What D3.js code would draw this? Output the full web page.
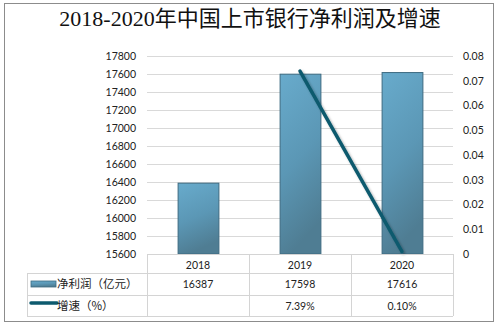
<!DOCTYPE html>
<html><head><meta charset="utf-8">
<script src="https://cdn.jsdelivr.net/npm/d3@7"></script>
<style>
html,body{margin:0;padding:0;background:#fff;}
svg{display:block;}
</style></head>
<body>
<svg id="chart" width="498" height="326"></svg>
<script>
// 2018-2020年中国上市银行净利润及增速
const years = ["2018", "2019", "2020"];
const profit = [16387, 17598, 17616];          // 净利润（亿元）
const growth = [null, 0.0739, 0.0010];         // 增速
const growthLabels = ["", "7.39%", "0.10%"];
const leftTicks = [15600, 15800, 16000, 16200, 16400, 16600, 16800, 17000, 17200, 17400, 17600, 17800];
const rightTicks = [0, 0.01, 0.02, 0.03, 0.04, 0.05, 0.06, 0.07, 0.08];
const seriesNames = ["净利润（亿元）", "增速（%）"];

const svg = d3.select("#chart");
const numFont = "Lato, 'Noto Sans CJK SC', sans-serif";
const cjkFont = "'Noto Sans CJK SC', sans-serif";

// outer frame
svg.append("rect").attr("x", 4.5).attr("y", 3.5).attr("width", 489).attr("height", 318)
  .attr("fill", "#fff").attr("stroke", "#8c8c8c").attr("stroke-width", 1);

// title
svg.append("text").attr("x", 250).attr("y", 25.5).attr("text-anchor", "middle")
  .attr("font-family", "'Liberation Serif', 'Noto Sans CJK SC', serif")
  .attr("font-size", 22).attr("fill", "#111")
  .text("2018-2020年中国上市银行净利润及增速");

const plotL = 147, plotR = 453, plotT = 56, plotB = 254;

const x = d3.scaleBand().domain(years).range([plotL, plotR]).paddingInner(0).paddingOuter(0);
const yL = d3.scaleLinear().domain([15600, 17800]).range([plotB, plotT]);
const yR = d3.scaleLinear().domain([0, 0.08]).range([plotB, plotT]);

// gridlines
svg.append("g").selectAll("line").data(leftTicks.slice(1)).join("line")
  .attr("x1", plotL).attr("x2", plotR)
  .attr("y1", d => Math.round(yL(d)) + 0.5).attr("y2", d => Math.round(yL(d)) + 0.5)
  .attr("stroke", "#d9d9d9").attr("stroke-width", 1);

// left axis
const gL = svg.append("g").attr("transform", `translate(${plotL - 11},0)`)
  .call(d3.axisLeft(yL).tickValues(leftTicks).tickSize(0).tickPadding(0).tickFormat(d3.format("d")));
gL.select(".domain").remove();
gL.selectAll("text").attr("font-family", numFont).attr("font-size", 10.5).attr("fill", "#222");

// right axis
const gR = svg.append("g").attr("transform", `translate(${plotR + 10},0)`)
  .call(d3.axisRight(yR).tickValues(rightTicks).tickSize(0).tickPadding(0)
    .tickFormat(d => d === 0 ? "0" : d3.format(".2f")(d)));
gR.select(".domain").remove();
gR.selectAll("text").attr("font-family", numFont).attr("font-size", 10.5).attr("fill", "#222");

// bar gradient
const defs = svg.append("defs");
const grad = defs.append("linearGradient").attr("id", "barGrad")
  .attr("x1", "0").attr("y1", "0").attr("x2", "0.25").attr("y2", "1");
grad.append("stop").attr("offset", "0%").attr("stop-color", "#68abcc");
grad.append("stop").attr("offset", "55%").attr("stop-color", "#5b97b5");
grad.append("stop").attr("offset", "100%").attr("stop-color", "#4f7d93");

const shadow = defs.append("filter").attr("id", "lineShadow")
  .attr("x", "-10%").attr("y", "-10%").attr("width", "130%").attr("height", "130%");
shadow.append("feDropShadow").attr("dx", 1.5).attr("dy", 1.5).attr("stdDeviation", 1.2)
  .attr("flood-color", "#000").attr("flood-opacity", 0.3);

// bars
const barW = x.bandwidth() * 0.4;
svg.append("g").selectAll("rect").data(profit).join("rect")
  .attr("x", (d, i) => x(years[i]) + (x.bandwidth() - barW) / 2 + 0.5)
  .attr("y", d => yL(d))
  .attr("width", barW)
  .attr("height", d => plotB - yL(d))
  .attr("fill", "url(#barGrad)")
  .attr("stroke", "#3d6a80").attr("stroke-width", 1);

// growth line
const lineData = growth.map((g, i) => ({ year: years[i], g })).filter(d => d.g !== null);
svg.append("path").datum(lineData)
  .attr("d", d3.line().x(d => x(d.year) + x.bandwidth() / 2).y(d => yR(d.g)))
  .attr("fill", "none").attr("stroke", "#0d5a6e").attr("stroke-width", 3.5)
  .attr("stroke-linecap", "round")
  .attr("filter", "url(#lineShadow)");

// data table
const tblL = 27, row1 = 273, row2 = 295, row3 = 316;
const gridC = "#d4d4d4";
const tbl = svg.append("g");
// axis baseline
tbl.append("line").attr("x1", plotL).attr("x2", plotR).attr("y1", plotB + 0.5).attr("y2", plotB + 0.5)
  .attr("stroke", gridC);
[row1, row2, row3].forEach(yy => {
  tbl.append("line").attr("x1", tblL).attr("x2", plotR).attr("y1", yy + 0.5).attr("y2", yy + 0.5)
    .attr("stroke", gridC);
});
tbl.append("line").attr("x1", tblL + 0.5).attr("x2", tblL + 0.5).attr("y1", row1).attr("y2", row3)
  .attr("stroke", gridC);
[plotL, ...years.map(y => x(y) + x.bandwidth())].forEach(xx => {
  tbl.append("line").attr("x1", Math.round(xx) + 0.5).attr("x2", Math.round(xx) + 0.5)
    .attr("y1", plotB).attr("y2", row3).attr("stroke", gridC);
});

// category labels
tbl.selectAll("text.cat").data(years).join("text").attr("class", "cat")
  .attr("x", d => x(d) + x.bandwidth() / 2).attr("y", 268.5)
  .attr("text-anchor", "middle").attr("font-family", numFont).attr("font-size", 10.5).attr("fill", "#222")
  .text(d => d);

// values row
tbl.selectAll("text.v1").data(profit).join("text").attr("class", "v1")
  .attr("x", (d, i) => x(years[i]) + x.bandwidth() / 2).attr("y", 288)
  .attr("text-anchor", "middle").attr("font-family", numFont).attr("font-size", 10.5).attr("fill", "#222")
  .text(d => d);
tbl.selectAll("text.v2").data(growthLabels).join("text").attr("class", "v2")
  .attr("x", (d, i) => x(years[i]) + x.bandwidth() / 2).attr("y", 309.5)
  .attr("text-anchor", "middle").attr("font-family", numFont).attr("font-size", 10.5).attr("fill", "#222")
  .text(d => d);

// legend keys
tbl.append("rect").attr("x", 31).attr("y", 281).attr("width", 25).attr("height", 6)
  .attr("fill", "url(#barGrad)").attr("stroke", "#3d6a80").attr("stroke-width", 0.8);
tbl.append("line").attr("x1", 31).attr("x2", 57).attr("y1", 303).attr("y2", 303)
  .attr("stroke", "#0d5a6e").attr("stroke-width", 3.5).attr("stroke-linecap", "round");
tbl.append("text").attr("x", 57).attr("y", 288).attr("font-family", cjkFont).attr("font-size", 11.5)
  .attr("fill", "#222").text(seriesNames[0]);
tbl.append("text").attr("x", 57).attr("y", 309.5).attr("font-family", cjkFont).attr("font-size", 11.5)
  .attr("fill", "#222").text(seriesNames[1]);
</script>
</body></html>
